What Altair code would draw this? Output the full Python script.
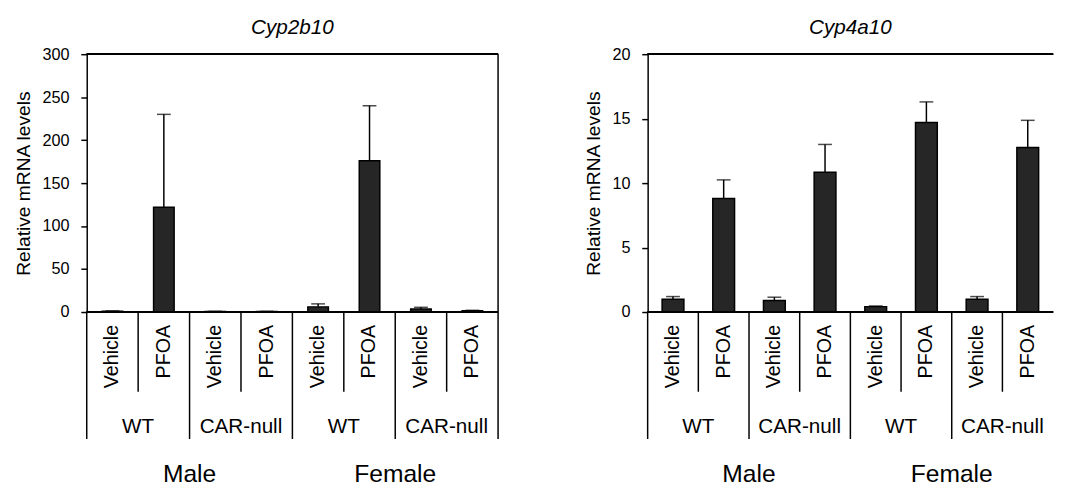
import altair as alt
import pandas as pd

# ---- data ----
sexes = ["Male", "Female"]
genotypes = ["WT", "CAR-null"]
treatments = ["Vehicle", "PFOA"]

cyp2b10_mean = [1.0, 122, 0.6, 0.6, 6.0, 176, 3.5, 1.5]
cyp2b10_err = [0.3, 108, 0.2, 0.2, 3.5, 64, 2.0, 0.5]

cyp4a10_mean = [1.0, 8.8, 0.9, 10.85, 0.42, 14.7, 1.0, 12.77]
cyp4a10_err = [0.2, 1.45, 0.25, 2.15, 0.05, 1.6, 0.2, 2.1]

cyp2b10_ticks = [0, 50, 100, 150, 200, 250, 300]
cyp4a10_ticks = [0, 5, 10, 15, 20]

FONT = "Liberation Sans"
H = 262
LW = 1.5


def panel(title, means, errs, ticks, width, band, right_border):
    rows = []
    i = 0
    for s in sexes:
        for g in genotypes:
            for t in treatments:
                rows.append(dict(idx=i, sex=s, geno=g, treat=t,
                                 mean=means[i], top=means[i] + errs[i]))
                i += 1
    df = pd.DataFrame(rows)
    veh = df[df.treat == "Vehicle"]
    pfoa = df[df.treat == "PFOA"]
    sexdf = df[df.idx.isin([1, 5])]
    lastdf = df[df.idx == 7]

    xs = alt.Scale(domain=list(range(8)), paddingInner=0, paddingOuter=0)

    def X(bp=None):
        if bp is None:
            return alt.X("idx:O", scale=xs, axis=None)
        return alt.X("idx:O", scale=xs, axis=None, bandPosition=bp)

    ys = alt.Scale(domain=[ticks[0], ticks[-1]], nice=False, zero=True)

    bars = alt.Chart(df).mark_bar(
        color="#262626", stroke="black", strokeWidth=LW,
        width=alt.RelativeBandSize(band)
    ).encode(
        x=X(),
        y=alt.Y("mean:Q", scale=ys, axis=alt.Axis(
            values=ticks, title="Relative mRNA levels", grid=False,
            domainColor="black", domainWidth=LW, tickColor="black",
            tickWidth=LW, tickSize=6, labelPadding=12, labelFont=FONT,
            labelFontSize=16.5, labelColor="black", titleFont=FONT,
            titleFontSize=19.5, titleFontWeight="normal", titleColor="black",
            titlePadding=9)),
    )
    err = alt.Chart(df).mark_rule(color="black", strokeWidth=LW).encode(
        x=X(0.5), y=alt.Y("mean:Q", scale=ys), y2="top:Q")
    cap = alt.Chart(df).mark_tick(color="black", thickness=LW, size=14).encode(
        x=X(), y=alt.Y("top:Q", scale=ys))

    top_line = alt.Chart(df).mark_rule(color="black", strokeWidth=LW).encode(
        x=alt.value(0), x2=alt.value(width), y=alt.value(0))
    zero_line = alt.Chart(df).mark_rule(color="black", strokeWidth=LW).encode(
        x=alt.value(0), x2=alt.value(width), y=alt.value(H))

    grp_div = alt.Chart(veh).mark_rule(color="black", strokeWidth=LW).encode(
        x=X(0), y=alt.value(H), y2=alt.value(H + 129))
    trt_div = alt.Chart(pfoa).mark_rule(color="black", strokeWidth=LW).encode(
        x=X(0), y=alt.value(H), y2=alt.value(H + 81))

    trt_txt = alt.Chart(df).mark_text(
        angle=270, align="right", baseline="middle", font=FONT, fontSize=20,
        color="black", dx=3).encode(x=X(0.5), y=alt.value(H + 16), text="treat:N")
    geno_txt = alt.Chart(veh).mark_text(
        align="center", baseline="middle", font=FONT, fontSize=21,
        color="black").encode(x=X(1), y=alt.value(H + 117), text="geno:N")
    sex_txt = alt.Chart(sexdf).mark_text(
        align="center", baseline="middle", font=FONT, fontSize=25,
        color="black").encode(x=X(1), y=alt.value(H + 165), text="sex:N")

    layers = [bars, err, cap, top_line, zero_line, grp_div, trt_div,
              trt_txt, geno_txt, sex_txt]
    if right_border:
        layers.append(alt.Chart(lastdf).mark_rule(color="black", strokeWidth=LW).encode(
            x=X(1), y=alt.value(0), y2=alt.value(H + 129)))

    return alt.layer(*layers).properties(
        width=width, height=H,
        title=alt.Title(title, font=FONT, fontSize=21, fontStyle="italic",
                        fontWeight="normal", color="black", anchor="middle",
                        frame="group", offset=9))


left = panel("Cyp2b10", cyp2b10_mean, cyp2b10_err, cyp2b10_ticks, 418, 0.40, True)
right = panel("Cyp4a10", cyp4a10_mean, cyp4a10_err, cyp4a10_ticks, 412, 0.43, False)

chart = alt.hconcat(left, right, spacing=85).configure_view(stroke=None)

chart.save("out.html", embed_options={"renderer": "svg", "actions": False})
